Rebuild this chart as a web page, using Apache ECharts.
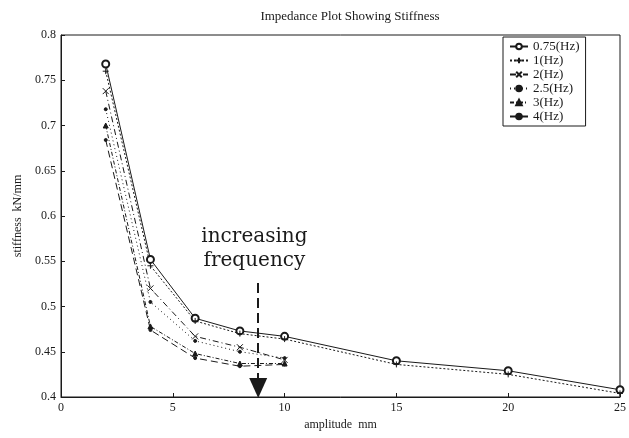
<!DOCTYPE html>
<html>
<head>
<meta charset="utf-8">
<script src="https://cdn.jsdelivr.net/npm/echarts@6/dist/echarts.min.js"></script>
<style>
  html, body { margin: 0; padding: 0; background: #fff; }
  #chart { width: 629px; height: 438px; }
</style>
</head>
<body>
<div id="chart"></div>
<script>
// Stiffness (kN/mm) against amplitude (mm) for each test frequency
const amplitude = [2, 4, 6, 8, 10, 15, 20, 25];
const seriesNames = ['0.75(Hz)', '1(Hz)', '2(Hz)', '2.5(Hz)', '3(Hz)', '4(Hz)'];
const stiff075 = [0.768, 0.552, 0.487, 0.473, 0.467, 0.440, 0.429, 0.408];
const stiff1   = [0.760, 0.545, 0.484, 0.470, 0.464, 0.436, 0.425, 0.404];
const stiff2   = [0.738, 0.520, 0.467, 0.455, 0.441];
const stiff25  = [0.718, 0.505, 0.462, 0.450, 0.443];
const stiff3   = [0.700, 0.478, 0.448, 0.437, 0.437];
const stiff4   = [0.684, 0.474, 0.443, 0.434, 0.436];
const xTicks = [0, 5, 10, 15, 20, 25];
const yTicks = [0.4, 0.45, 0.5, 0.55, 0.6, 0.65, 0.7, 0.75, 0.8];

// arrow annotation: from / to, and where the caption sits
const arrowX = 8.82, arrowTop = 0.526, arrowEnd = 0.41;
const captionAt = [8.65, 0.564];

const serif = 'Liberation Serif';
const ink = '#1a1a1a';

function pairs(vals) { return vals.map((v, i) => [amplitude[i], v]); }

const PLUS = 'path://M5,0 L5,10 M0,5 L10,5';
const CROSS = 'path://M0,0 L10,10 M10,0 L0,10';

function lineSeries(name, vals, type, symbol, size) {
  return {
    name: name, type: 'line', data: pairs(vals),
    symbol: symbol, symbolSize: size, showSymbol: true,
    lineStyle: { color: ink, width: 1, type: type },
    itemStyle: { color: ink, borderColor: ink, borderWidth: 1 },
    emphasis: { disabled: true }, animation: false, z: 3
  };
}

const chart = echarts.init(document.getElementById('chart'), null, { renderer: 'canvas' });
chart.setOption({
  backgroundColor: '#fff',
  animation: false,
  title: {
    text: 'Impedance Plot Showing Stiffness', left: 345, top: 5, textAlign: 'center',
    textStyle: { fontFamily: serif, fontSize: 13, fontWeight: 'normal', color: ink }
  },
  grid: { left: 61, right: 7, top: 35, bottom: 41, show: true, borderColor: ink, borderWidth: 1 },
  legend: {
    data: seriesNames, orient: 'vertical', left: 503, top: 37,
    backgroundColor: '#fff', borderColor: ink, borderWidth: 1, padding: [3, 6, 3, 6],
    itemWidth: 18, itemHeight: 7, itemGap: 1,
    textStyle: { fontFamily: serif, fontSize: 13, color: ink, width: 64 }
  },
  xAxis: {
    type: 'value', min: 0, max: 25, interval: 5,
    name: 'amplitude  mm', nameLocation: 'middle', nameGap: 18,
    nameTextStyle: { fontFamily: serif, fontSize: 12, color: ink },
    axisLine: { lineStyle: { color: ink } },
    axisTick: { inside: true, length: 4, lineStyle: { color: ink } },
    axisLabel: { fontFamily: serif, fontSize: 12, color: ink, margin: 5,
      formatter: v => xTicks.includes(v) ? String(v) : '' },
    splitLine: { show: false }
  },
  yAxis: {
    type: 'value', min: 0.4, max: 0.8, interval: 0.05,
    name: 'stiffness  kN/mm', nameLocation: 'middle', nameGap: 37, nameRotate: 90,
    nameTextStyle: { fontFamily: serif, fontSize: 12, color: ink },
    axisLine: { lineStyle: { color: ink } },
    axisTick: { inside: true, length: 4, lineStyle: { color: ink } },
    axisLabel: { fontFamily: serif, fontSize: 12, color: ink, margin: 5,
      formatter: v => { const t = yTicks.find(k => Math.abs(k - v) < 1e-6); return t === undefined ? '' : String(t); } },
    splitLine: { show: false }
  },
  series: [
    lineSeries(seriesNames[0], stiff075, 'solid', 'emptyCircle', 7),
    lineSeries(seriesNames[1], stiff1, [2, 2], PLUS, 6),
    lineSeries(seriesNames[2], stiff2, [6, 3, 1, 3], CROSS, 6),
    lineSeries(seriesNames[3], stiff25, [1, 3], 'circle', 3),
    lineSeries(seriesNames[4], stiff3, [4, 2, 1, 2], 'triangle', 5),
    lineSeries(seriesNames[5], stiff4, [7, 4], 'circle', 3),
    {
      // "increasing frequency" arrow and caption
      name: 'annotation', type: 'line', data: [], silent: true, z: 5,
      markLine: {
        silent: true, animation: false,
        symbol: ['none', 'triangle'], symbolSize: [18, 20],
        lineStyle: { color: ink, width: 2, type: [10, 5] },
        label: { show: false },
        data: [[{ coord: [arrowX, arrowTop] }, { coord: [arrowX, arrowEnd] }]]
      },
      markPoint: {
        silent: true, animation: false, symbol: 'circle', symbolSize: 0,
        label: {
          show: true, position: 'inside', formatter: 'increasing\nfrequency',
          fontFamily: 'DejaVu Serif', fontSize: 20, lineHeight: 24, color: ink
        },
        data: [{ coord: captionAt }]
      }
    }
  ]
});
</script>
</body>
</html>
